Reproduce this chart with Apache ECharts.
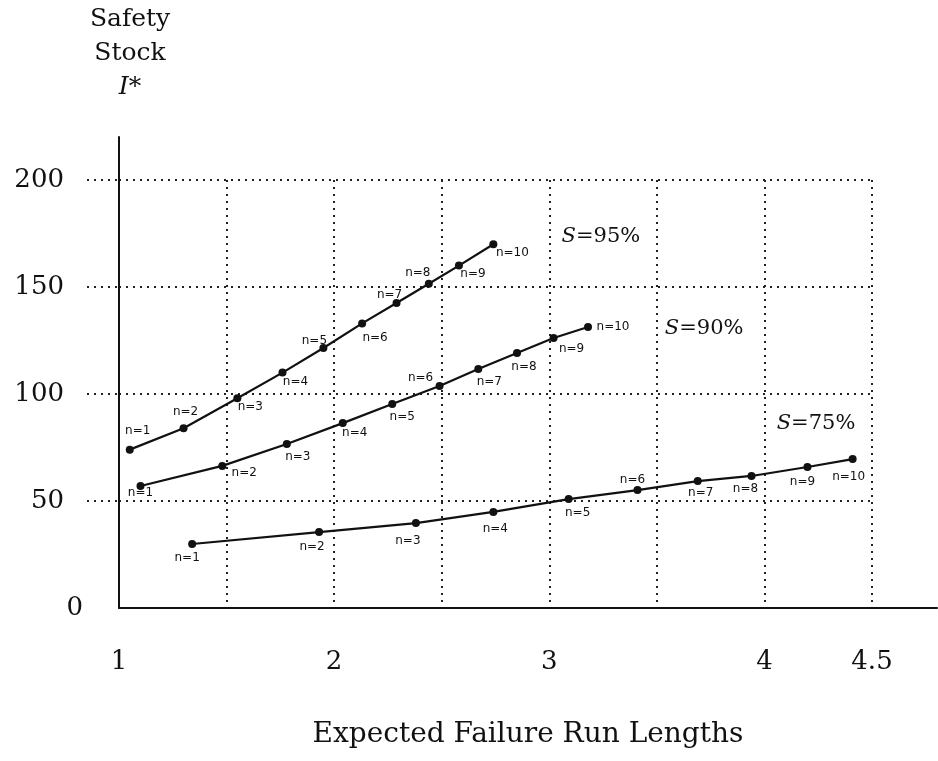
<!DOCTYPE html>
<html>
<head>
<meta charset="utf-8">
<script src="https://cdn.jsdelivr.net/npm/echarts@6/dist/echarts.min.js"></script>
<style>
  html, body { margin: 0; padding: 0; background: #fff; }
  #chart { width: 938px; height: 761px; }
</style>
</head>
<body>
<div id="chart"></div>
<script>
// expected failure run lengths (x) and safety stock I* (y), n = 1..10
var x95 = [1.05, 1.30, 1.55, 1.76, 1.95, 2.13, 2.29, 2.44, 2.58, 2.74]
var y95 = [74, 84, 98, 110, 121.5, 133, 142.5, 151.5, 160, 170]
var x90 = [1.10, 1.48, 1.78, 2.04, 2.27, 2.49, 2.67, 2.85, 3.02, 3.18]
var y90 = [57, 66.4, 76.6, 86.4, 95.3, 103.7, 111.7, 119.2, 126.2, 131.3]
var x75 = [1.34, 1.93, 2.38, 2.74, 3.09, 3.41, 3.69, 3.94, 4.20, 4.41]
var y75 = [29.9, 35.5, 39.7, 44.9, 50.9, 55.1, 59.3, 61.7, 65.9, 69.6]
var nLabels = ['n=1', 'n=2', 'n=3', 'n=4', 'n=5', 'n=6', 'n=7', 'n=8', 'n=9', 'n=10']
var seriesNames = ['S=95%', 'S=90%', 'S=75%']
var xTickLabels = [1, 2, 3, 4, 4.5]
var yTickLabels = [50, 100, 150, 200]

// where the hand-written n labels sit, relative to their point (px)
var off95 = [[8, -19], [2, -16], [13, 9], [13, 9], [-9, -7], [13, 14], [-7, -8], [-11, -11], [14, 8], [19, 9]]
var off90 = [[0, 7], [22, 7], [11, 13], [12, 10], [10, 13], [-19, -8], [11, 13], [7, 14], [18, 11], [25, 0]]
var off75 = [[-5, 14], [-7, 15], [-8, 18], [2, 17], [9, 14], [-5, -10], [3, 12], [-6, 13], [-5, 15], [-4, 18]]
// where the S=.. notes sit, in data units
var noteAt = [[3.24, 173.8], [3.72, 130.8], [4.24, 86.4]]

var serif = 'DejaVu Serif'
var dots = { color: '#222', width: 2, type: [2, 5] }

function pts(xs, ys, offs) {
    return xs.map(function (x, i) {
        return {
            value: [x, ys[i]],
            label: { offset: offs[i], formatter: nLabels[i] }
        }
    })
}

function makeSeries(name, xs, ys, offs, note) {
    return {
        name: name,
        type: 'line',
        xAxisIndex: 0,
        yAxisIndex: 0,
        data: pts(xs, ys, offs),
        symbol: 'circle',
        symbolSize: 8,
        lineStyle: { color: '#111', width: 2.2 },
        itemStyle: { color: '#111' },
        label: {
            show: true,
            position: 'inside',
            align: 'center',
            verticalAlign: 'middle',
            fontFamily: 'DejaVu Sans',
            fontSize: 12,
            color: '#111'
        },
        markPoint: {
            symbol: 'circle',
            symbolSize: 0,
            data: [{
                coord: note,
                label: {
                    show: true,
                    formatter: '{s|S}{t|' + name.slice(1) + '}',
                    rich: {
                        s: { fontFamily: serif, fontStyle: 'italic', fontSize: 21, color: '#111' },
                        t: { fontFamily: serif, fontSize: 21, color: '#111' }
                    }
                }
            }]
        },
        animation: false
    }
}

var chart = echarts.init(document.getElementById('chart'))

var option = {
    animation: false,
    grid: [
        // plotting area with the dotted grid
        { left: 119, top: 180, right: 66, bottom: 153 },
        // solid axis frame, longer than the grid
        { left: 119, top: 137, right: 1, bottom: 153 },
        // dotted stubs left of the y axis
        { left: 87, top: 180, width: 32, bottom: 153 }
    ],
    xAxis: [
        {
            gridIndex: 0, type: 'value', min: 1, max: 4.5, interval: 0.5,
            axisLine: { show: false }, axisTick: { show: false },
            splitLine: { show: true, lineStyle: dots },
            axisLabel: {
                margin: 41, fontFamily: serif, fontSize: 26, color: '#111',
                formatter: function (v) { return xTickLabels.indexOf(v) >= 0 ? String(v) : '' }
            }
        },
        {
            gridIndex: 1, type: 'value', min: 0, max: 1,
            axisLine: { show: true, onZero: false, lineStyle: { color: '#111', width: 2 } },
            axisTick: { show: false }, axisLabel: { show: false }, splitLine: { show: false },
            name: 'Expected Failure Run Lengths',
            nameLocation: 'middle',
            nameGap: 113,
            nameTextStyle: { fontFamily: serif, fontSize: 28, color: '#111' }
        },
        {
            gridIndex: 2, type: 'value', min: 0, max: 1, show: false
        }
    ],
    yAxis: [
        {
            gridIndex: 0, type: 'value', min: 0, max: 200, interval: 50,
            axisLine: { show: false }, axisTick: { show: false },
            splitLine: { show: true, showMinLine: false, lineStyle: dots },
            axisLabel: {
                margin: 55, fontFamily: serif, fontSize: 26, color: '#111',
                formatter: function (v) { return yTickLabels.indexOf(v) >= 0 ? String(v) : '' }
            }
        },
        {
            gridIndex: 1, type: 'value', min: 0, max: 1,
            axisLine: { show: true, onZero: false, lineStyle: { color: '#111', width: 2 } },
            axisTick: { show: false }, axisLabel: { show: false }, splitLine: { show: false },
            name: '{a|Safety}\n{a|Stock}\n{i|I*}',
            nameLocation: 'end',
            nameGap: 33,
            nameTextStyle: {
                align: 'center',
                padding: [0, 0, 0, 22],
                lineHeight: 34,
                rich: {
                    a: { fontFamily: serif, fontSize: 25, color: '#111', lineHeight: 34 },
                    i: { fontFamily: serif, fontStyle: 'italic', fontSize: 25, color: '#111', lineHeight: 34 }
                }
            }
        },
        {
            // only the 0 label, which sits further right than the others
            gridIndex: 2, type: 'value', min: 0, max: 200, interval: 50,
            axisLine: { show: false }, axisTick: { show: false },
            axisLabel: {
                margin: 4, fontFamily: serif, fontSize: 26, color: '#111',
                formatter: function (v) { return v === 0 ? '0' : '' }
            },
            splitLine: { show: true, showMinLine: false, lineStyle: dots }
        }
    ],
    series: [
        makeSeries(seriesNames[0], x95, y95, off95, noteAt[0]),
        makeSeries(seriesNames[1], x90, y90, off90, noteAt[1]),
        makeSeries(seriesNames[2], x75, y75, off75, noteAt[2])
    ]
}

chart.setOption(option)
</script>
</body>
</html>
